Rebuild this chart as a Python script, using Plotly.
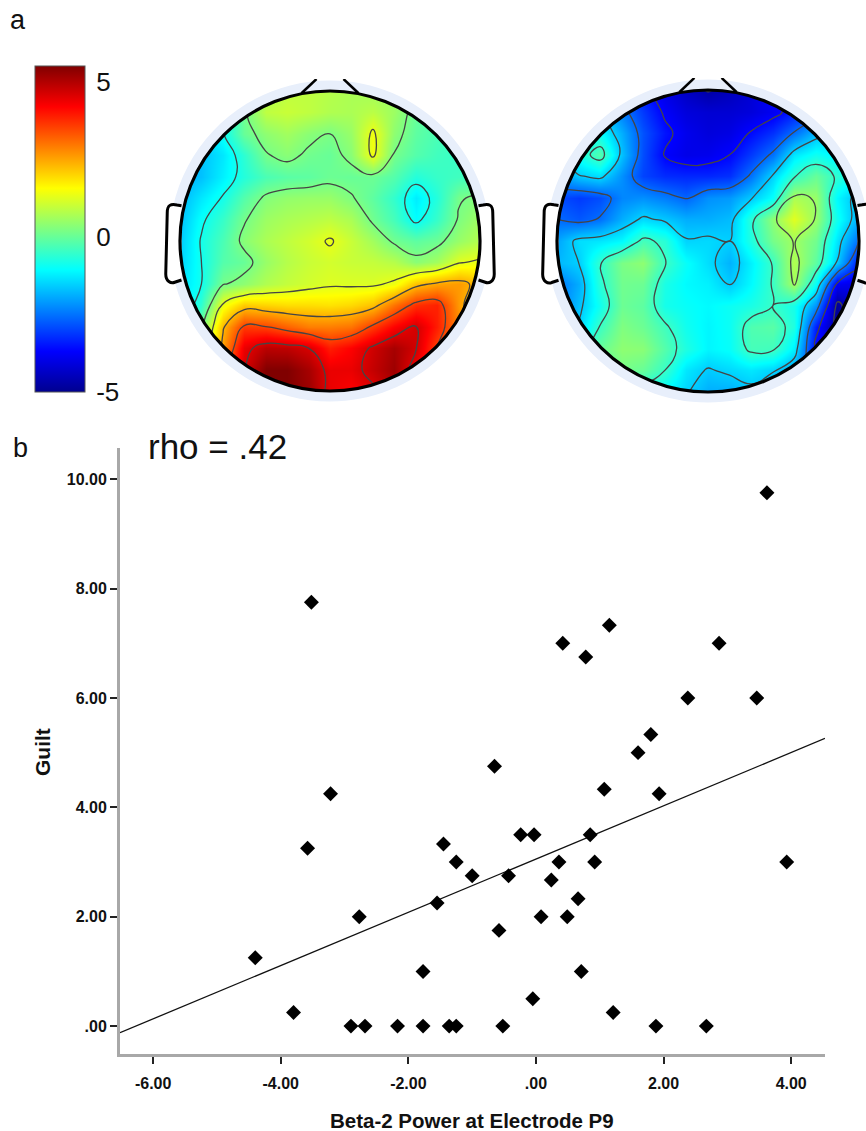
import plotly.graph_objects as go

W, H = 866, 1131

# ---------- panel b data ----------
power = [-4.40,-3.80,-3.52,-3.58,-3.22,-2.90,-2.68,-2.77,-2.17,-1.77,-1.77,-1.36,-1.25,-1.55,-1.45,-1.25,-1.00,
         -0.65,-0.58,-0.52,-0.43,-0.24,-0.03,-0.05,0.08,0.24,0.36,0.42,0.49,0.66,0.71,0.78,0.85,0.92,1.07,1.15,
         1.21,1.60,1.80,1.88,1.93,2.38,2.67,2.87,3.46,3.62,3.93]
guilt = [1.25,0.25,7.75,3.25,4.25,0,0,2,0,0,1,0,0,2.25,3.33,3,2.75,
         4.75,1.75,0,2.75,3.5,3.5,0.5,2,2.67,3,7,2,2.33,1,6.75,3.5,3,4.33,7.33,
         0.25,5,5.33,0,4.25,6,0,7,6,9.75,3]
fit_x = [-6.52, 4.53]
fit_y = [-0.12, 5.26]
x_ticks = [-6,-4,-2,0,2,4]
x_labels = ["-6.00","-4.00","-2.00",".00","2.00","4.00"]
y_ticks = [0,2,4,6,8,10]
y_labels = [".00","2.00","4.00","6.00","8.00","10.00"]

# ---------- panel a data (scalp position grid, top row = front of head) ----------
grid_pos = [-1,-0.857,-0.714,-0.571,-0.429,-0.286,-0.143,0,0.143,0.286,0.429,0.571,0.714,0.857,1]
map_left = [
 [-1.5,-1.5,-0.8,-0.2,0.6,0.9,0.9,0.8,0.7,0.6,0.5,0.2,-0.2,-0.4,-0.5],
 [-1.6,-1.5,-1.0,0.1,0.9,1.0,0.9,0.75,0.7,0.85,0.55,0.0,-0.3,-0.4,-0.5],
 [-1.8,-1.6,-0.95,0.0,0.4,0.6,0.35,0.2,0.5,1.42,0.4,-0.1,-0.3,-0.4,-0.5],
 [-1.9,-1.7,-1.3,-0.6,0.15,0.35,0.1,0.0,0.35,1.42,0.15,-0.2,-0.4,-0.5,-0.5],
 [-1.9,-1.7,-1.2,-0.7,-0.3,-0.15,-0.1,0.05,0.0,0.05,-0.2,-0.7,-0.5,-0.4,-0.4],
 [-1.8,-1.3,-0.85,-0.2,0.3,0.45,0.5,0.5,0.25,-0.1,-0.55,-1.25,-0.7,0.15,0.3],
 [-1.7,-1.0,-0.5,0.15,0.55,0.7,0.8,0.9,0.7,0.1,-0.35,-1.05,-0.5,0.25,0.6],
 [-1.6,-0.85,-0.3,0.35,0.7,0.9,1.1,1.36,1.0,0.6,0.1,-0.1,0.05,0.5,0.8],
 [-1.5,-0.9,-0.2,0.0,0.5,0.8,1.0,1.1,1.0,0.95,0.8,0.35,0.6,1.25,1.4],
 [-1.4,-0.9,0.15,0.4,0.75,0.95,1.1,1.22,1.2,1.2,1.4,2.2,2.5,2.6,2.2],
 [-1.4,-0.6,1.4,2.1,2.0,1.9,1.9,1.85,1.95,2.2,3.0,3.7,3.85,2.6,1.8],
 [-1.0,0.1,2.3,3.6,3.5,3.2,2.9,2.9,3.0,3.6,4.2,4.65,3.9,2.8,2.0],
 [-0.5,0.5,2.6,4.4,4.9,4.85,4.6,3.9,4.2,4.7,5.1,4.65,3.5,2.6,1.8],
 [0,1,3.2,4.6,5.5,5.5,5.1,4.4,4.4,4.8,5.2,4.3,3.6,2.7,2],
 [0,1,4,5,5.5,5.5,5.2,4.4,4.2,4.5,5,4.3,3.5,2.5,2],
]
map_right = [
 [-2,-2,-2.5,-3,-3.5,-4,-4.4,-4.75,-4.5,-4.2,-3.6,-3,-2.5,-2,-2],
 [-1.5,-1.5,-1.7,-2.4,-3.1,-3.75,-4.1,-4.2,-4.2,-4.1,-3.85,-3.4,-3.0,-2.5,-2.0],
 [-1.3,-1.2,-1.0,-1.9,-2.85,-3.5,-3.9,-4.1,-4.0,-3.6,-3.2,-2.55,-1.8,-1.4,-1.4],
 [-1.6,-0.85,-0.2,-1.7,-2.9,-3.7,-3.95,-3.9,-3.65,-3.1,-2.5,-1.3,-0.9,-1.2,-1.3],
 [-2.2,-1.6,-1.4,-2.2,-3.0,-3.25,-3.3,-3.3,-3.2,-2.5,-1.5,-0.55,0.0,-0.6,-1.1],
 [-2.9,-3.1,-2.9,-2.3,-2.2,-2.4,-2.65,-2.2,-2.1,-1.6,-1.0,0.7,0.5,-1.1,-1.8],
 [-2.6,-2.8,-2.55,-1.9,-1.45,-1.65,-1.9,-1.9,-1.75,-0.65,0.4,1.25,0.5,-0.9,-1.9],
 [-2.0,-1.4,-1.3,-1.1,-0.35,-0.65,-1.5,-1.45,-1.55,-0.75,0.15,0.58,0.1,-1.3,-2.6],
 [-1.8,-1.55,-0.55,0.2,0.4,-0.45,-1.0,-1.4,-1.85,-1.2,-0.45,0.75,-0.1,-1.6,-3.5],
 [-2.5,-1.9,-0.65,0.1,0.05,-0.8,-1.1,-1.2,-1.6,-1.1,-0.45,0.62,-1.0,-3.8,-4.0],
 [-2.5,-1.7,-0.9,0.05,-0.1,-0.85,-1.0,-1.1,-0.95,-0.8,-0.5,-0.85,-2.2,-4.9,-4.0],
 [-2,-1.5,-0.45,0.25,0.05,-0.4,-0.9,-1.15,-0.95,-0.25,-0.15,-0.75,-3.4,-4.9,-3],
 [-1.5,-1,0.0,0.4,0.35,-0.2,-0.75,-1.15,-1.0,-0.35,-0.4,-1.2,-3.7,-4,-3],
 [-1,-0.8,-0.3,0.15,0.0,-0.5,-1.3,-1.6,-1.45,-1.3,-1.5,-2,-3,-3,-3],
 [-1,-1,-1,-0.8,-0.8,-1.1,-1.5,-1.9,-1.9,-1.7,-1.9,-2.5,-2.5,-2.5,-2.5],
]
cbar_ticks = [-5, 0, 5]
cbar_labels = ["-5", "0", "5"]

jet = [[0,"#00008f"],[0.125,"#0000ff"],[0.375,"#00ffff"],[0.625,"#ffff00"],[0.875,"#ff0000"],[1,"#800000"]]
ZMIN, ZMAX = -5, 5.5
FONT = "Liberation Sans, Arial, sans-serif"
BAR_L, BAR_R, BAR_T, BAR_B = 35, 85, 66, 392

fig = go.Figure()

def fx(px): return px / W
def fy(px): return 1 - px / H

heads = [
    dict(cx=330, cy=241, r=150, z=map_left, ax="2", start=-4.2, size=1.1, xr=(-1.15, 1.15)),
    dict(cx=708, cy=241, r=151, z=map_right, ax="3", start=-4.7, size=1.05, xr=(-1.15, (866-708)/151)),
]
K = 0.5523
def circle(r):
    k = K * r
    return (f"M {r},0 C {r},{k} {k},{r} 0,{r} C {-k},{r} {-r},{k} {-r},0 "
            f"C {-r},{-k} {-k},{-r} 0,{-r} C {k},{-r} {r},{-k} {r},0 Z")

shapes = []
layout_axes = {}
for h in heads:
    a = h["ax"]
    layout_axes[f"xaxis{a}"] = dict(domain=[fx(h["cx"] + h["xr"][0]*h["r"]), fx(h["cx"] + h["xr"][1]*h["r"])],
                                    range=list(h["xr"]), visible=False, anchor=f"y{a}", fixedrange=True)
    layout_axes[f"yaxis{a}"] = dict(domain=[fy(h["cy"] + 1.08*h["r"]), fy(h["cy"] - 1.08*h["r"])],
                                    range=[-1.08, 1.08], visible=False, anchor=f"x{a}", fixedrange=True)
    fig.add_trace(go.Contour(
        x=grid_pos, y=grid_pos[::-1], z=h["z"], xaxis=f"x{a}", yaxis=f"y{a}",
        colorscale=jet, zmin=ZMIN, zmax=ZMAX, showscale=False, autocontour=False,
        contours=dict(coloring="heatmap", start=h["start"], end=5.5, size=h["size"], showlines=True),
        line=dict(color="#454545", width=1.3, smoothing=1.3), hoverinfo="skip",
    ))
    ref = dict(xref=f"x{a}", yref=f"y{a}")
    shapes.append(dict(type="path", path="M -1.3,-1.3 L 1.3,-1.3 L 1.3,1.3 L -1.3,1.3 Z " + circle(1.0),
                       fillcolor="white", line=dict(width=0), **ref))
    shapes.append(dict(type="path", path=circle(1.07) + " " + circle(1.0),
                       fillcolor="#e8effb", line=dict(width=0), **ref))
    shapes.append(dict(type="path", path="M -0.19,0.985 L -0.09,1.08", line=dict(color="black", width=2.5), **ref))
    shapes.append(dict(type="path", path="M 0.19,0.985 L 0.09,1.08", line=dict(color="black", width=2.5), **ref))
    for s in (-1, 1):
        shapes.append(dict(type="path",
            path=(f"M {s*0.99},0.235 L {s*1.02},0.24 C {s*1.06},0.25 {s*1.085},0.24 {s*1.085},0.19 "
                  f"L {s*1.095},-0.22 C {s*1.095},-0.27 {s*1.06},-0.285 {s*1.035},-0.275 L {s*0.99},-0.26"),
            fillcolor="white", line=dict(color="black", width=3), **ref))
    shapes.append(dict(type="circle", x0=-1, x1=1, y0=-1, y1=1, fillcolor="rgba(0,0,0,0)",
                       line=dict(color="black", width=3.2), **ref))

# short inside ticks on both edges of the colour bar
for t in cbar_ticks[1:]:
    tick_y = BAR_B - (t - ZMIN) / (ZMAX - ZMIN) * (BAR_B - BAR_T)
    for x0, x1 in ((BAR_L, BAR_L + 3), (BAR_R - 3, BAR_R)):
        shapes.append(dict(type="line", xref="paper", yref="paper", x0=fx(x0), x1=fx(x1), y0=fy(tick_y), y1=fy(tick_y),
                           line=dict(color="#222", width=1)))

fig.add_trace(go.Scatter(
    x=[None], y=[None], xaxis="x2", yaxis="y2", mode="markers", hoverinfo="skip",
    marker=dict(color=[0], cmin=ZMIN, cmax=ZMAX, colorscale=jet, showscale=True,
                colorbar=dict(x=fx(BAR_L), xanchor="left", y=fy(BAR_T), yanchor="top", lenmode="pixels",
                              len=BAR_B-BAR_T, thicknessmode="pixels", thickness=BAR_R-BAR_L, xpad=0, ypad=0,
                              outlinecolor="#555", outlinewidth=1, tickvals=cbar_ticks, ticktext=cbar_labels,
                              ticks="outside", ticklen=6, tickcolor="rgba(0,0,0,0)",
                              tickfont=dict(family=FONT, size=26, color="#111")))))

fig.add_trace(go.Scatter(x=fit_x, y=fit_y, mode="lines", line=dict(color="#111", width=1.3), hoverinfo="skip"))
fig.add_trace(go.Scatter(x=power, y=guilt, mode="markers",
                         marker=dict(symbol="diamond", size=11.5, color="black", line=dict(width=0))))

tick_font = dict(family=FONT, size=16, color="#111", weight="bold")

def text(px, py, s, size, bold=False, **kw):
    f = dict(family=FONT, size=size, color="#111")
    if bold:
        f["weight"] = "bold"
    return dict(x=fx(px), y=fy(py), xref="paper", yref="paper", text=s, showarrow=False,
                xanchor="center", yanchor="middle", font=f, **kw)

annotations = [
    text(18, 20, "a", 27),
    text(20, 448, "b", 27),
    text(217, 447, "rho = .42", 35),
    text(472, 1120, "Beta-2 Power at Electrode P9", 20.5, bold=True),
    text(42, 752, "Guilt", 21, bold=True, textangle=-90),
]

axis_common = dict(ticks="outside", ticklen=7, tickwidth=1.5, tickcolor="#222", showgrid=False, zeroline=False,
                   showline=True, linecolor="#a8a8a8", linewidth=3, tickfont=tick_font, fixedrange=True)
fig.update_layout(
    width=W, height=H, autosize=False, showlegend=False, paper_bgcolor="white", plot_bgcolor="white",
    margin=dict(l=0, r=0, t=0, b=0, autoexpand=False),
    xaxis=dict(domain=[fx(120), fx(825)], range=[-6.52, 4.53], tickvals=x_ticks, ticktext=x_labels,
               ticklabelstandoff=6, anchor="y", **axis_common),
    yaxis=dict(domain=[fy(1054), fy(448)], range=[-0.51, 10.57], tickvals=y_ticks, ticktext=y_labels,
               anchor="x", **axis_common),
    shapes=shapes, annotations=annotations, **layout_axes,
)

fig.write_html("out.html", config={"displayModeBar": False},
               post_script="document.body.style.margin='0';document.documentElement.style.overflow='hidden';")
